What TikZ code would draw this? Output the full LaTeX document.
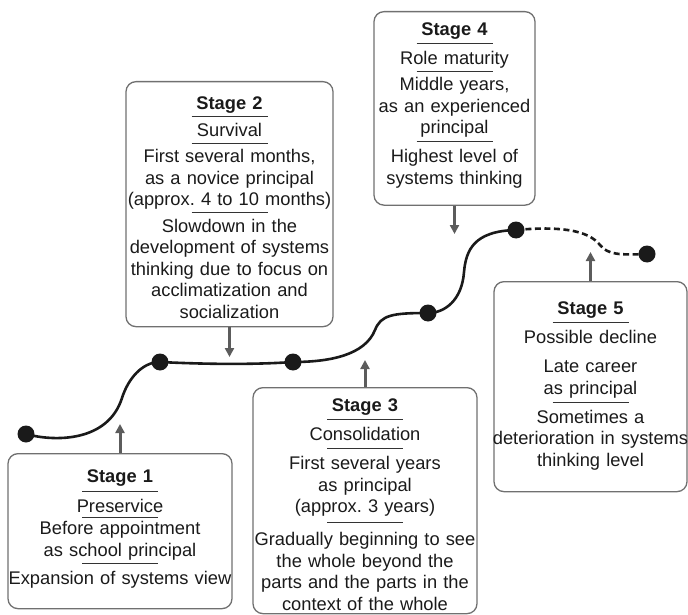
\documentclass[tikz,border=0pt]{standalone}
\usepackage{fontspec}
\setmainfont{Liberation Sans}
\usetikzlibrary{arrows.meta}
\frenchspacing
\definecolor{ink}{HTML}{1A1A1A}
\definecolor{boxgray}{HTML}{707070}
\definecolor{arrowgray}{HTML}{5C5C5C}
\definecolor{divgray}{HTML}{333333}
\newcommand{\stagefont}{\fontsize{18.3}{21.5}\selectfont}
% short rule between two parts of a box, #1 = distance of the two text lines
\newcommand{\divider}[1][28]{\\[\dimexpr #1pt/2-27.5pt\relax]\textcolor{divgray}{\rule{76pt}{1.3pt}}\\[\dimexpr #1pt/2-15.5pt\relax]}

\begin{document}
\begin{tikzpicture}[x=1pt, y=-1pt,
  stagebox/.style={draw=boxgray, line width=1.3pt, rounded corners=10pt, inner sep=0pt, anchor=north},
  stagetext/.style={text width=240pt, inner sep=0pt, anchor=north, text=ink, font=\stagefont, execute at begin node=\centering},
  milestone/.style={circle, fill=ink, minimum size=17pt, inner sep=0pt},
  career/.style={ink, line width=2.6pt},
  pointer/.style={draw=arrowgray, line width=3pt, -{Triangle[length=9pt, width=9pt]}}]
  \useasboundingbox (0,0) rectangle (688,615);
  % frames of the five stages
  \node[stagebox, minimum width=224pt, minimum height=155pt] (s1) at (120,453) {};
  \node[stagebox, minimum width=207pt, minimum height=245pt] (s2) at (229.5,81) {};
  \node[stagebox, minimum width=224pt, minimum height=226pt] (s3) at (365,387) {};
  \node[stagebox, minimum width=161pt, minimum height=193.5pt] (s4) at (454.5,11) {};
  \node[stagebox, minimum width=193pt, minimum height=210pt] (s5) at (590.5,281) {};
  % texts
  \node[stagetext] (s1txt) at (120,470) {{\bfseries Stage 1}\divider[30] Preservice\divider[22] Before appointment\\ as school principal\divider[27.7] Expansion of systems view};
  \node[stagetext] (s2txt) at (229.5,96.3) {{\bfseries Stage 2}\divider[27.7] Survival\divider[25.7] First several months,\\ as a novice principal\\ (approx. 4 to 10 months)\divider[26.7] Slowdown in the\\ development of systems\\ thinking due to focus on\\ acclimatization and\\ socialization};
  \node[stagetext] (s3txt) at (365,399) {{\bfseries Stage 3}\divider[29] Consolidation\divider[29] First several years\\ as principal\\ (approx. 3 years)\divider[33] Gradually beginning to see\\ the whole beyond the\\ parts and the parts in the\\ context of the whole};
  \node[stagetext] (s4txt) at (454.5,23) {{\bfseries Stage 4}\divider[29] Role maturity\divider[26] Middle years,\\ as an experienced\\ principal\divider[29] Highest level of\\ systems thinking};
  \node[stagetext] (s5txt) at (590.5,302) {{\bfseries Stage 5}\divider[29] Possible decline\\[7.5pt] Late career\\ as principal\divider[29] Sometimes a\\ deterioration in systems\\ thinking level};
  % the career line
  \node[milestone] (p1) at (26,434) {};
  \node[milestone] (p2) at (160,362) {};
  \node[milestone] (p3) at (293,362) {};
  \node[milestone] (p4) at (428,313) {};
  \node[milestone] (p5) at (516,230) {};
  \node[milestone] (p6) at (647,254) {};
  \draw[career] (p1.center) .. controls (55,442) and (108,442) .. (122,398)
    .. controls (128,379) and (142,362) .. (p2.center)
    .. controls (200,364) and (250,365) .. (p3.center)
    .. controls (330,362) and (365,355) .. (375,330)
    .. controls (381,315) and (392,313) .. (p4.center)
    .. controls (445,313) and (462,300) .. (464,272)
    .. controls (466,250) and (474,231) .. (p5.center);
  \draw[career, dash pattern=on 6pt off 3.5pt] (p5.center) .. controls (560,226) and (588,230) .. (600,245)
    .. controls (608,255) and (620,255) .. (p6.center);
  % arrows from the boxes to the line
  \coordinate (t1) at (120,424);
  \coordinate (t2) at (229.5,357);
  \coordinate (t3) at (365,360);
  \coordinate (t4) at (454.5,234);
  \coordinate (t5) at (590.5,252);
  \draw[pointer] (s1.north) -- (t1);
  \draw[pointer] (s2.south) -- (t2);
  \draw[pointer] (s3.north) -- (t3);
  \draw[pointer] (s4.south) -- (t4);
  \draw[pointer] (s5.north) -- (t5);
\end{tikzpicture}
\end{document}
